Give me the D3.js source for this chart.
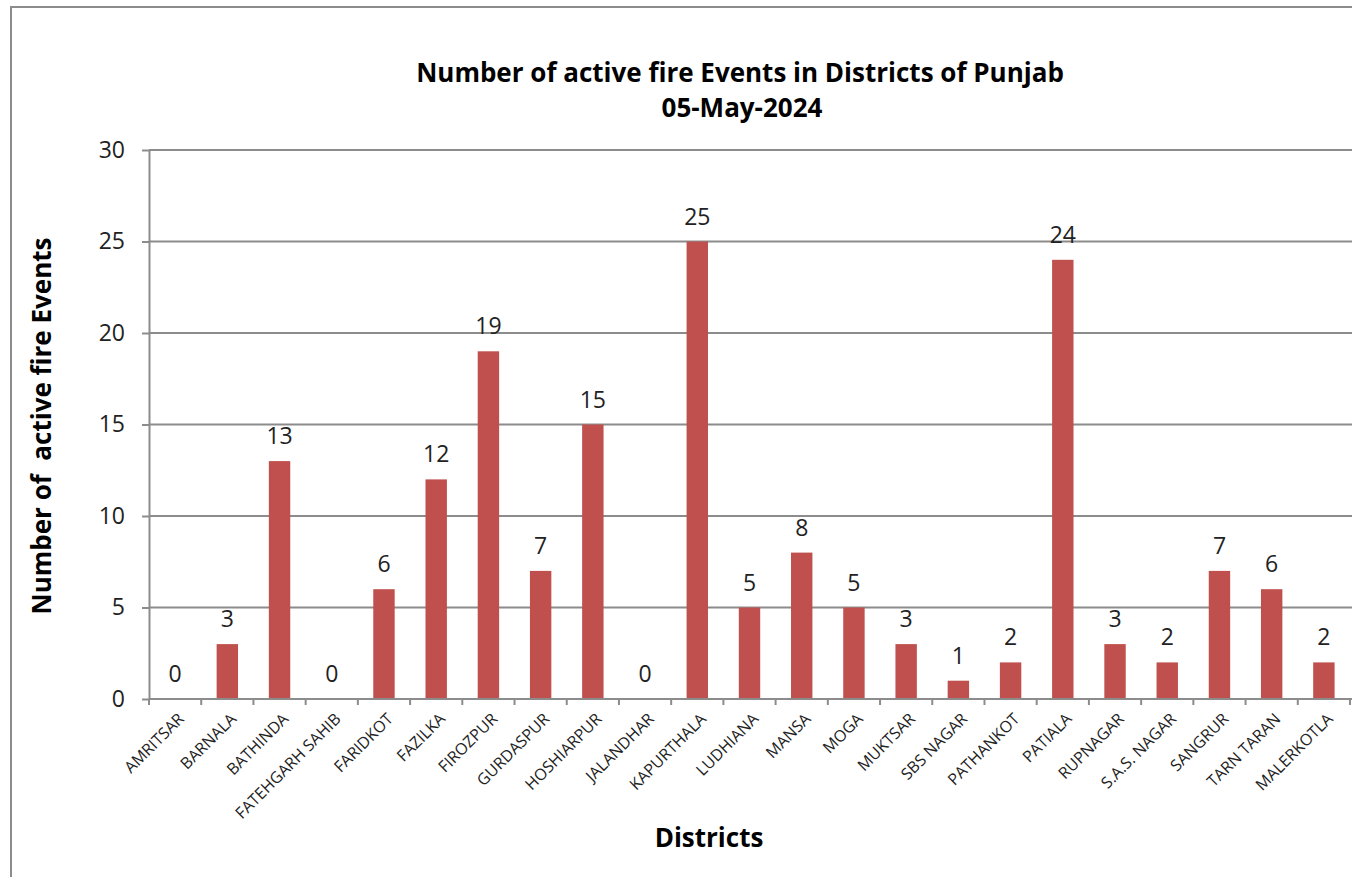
<!DOCTYPE html>
<html>
<head>
<meta charset="utf-8">
<script src="https://cdn.jsdelivr.net/npm/d3@7"></script>
<style>
  body { margin: 0; background: #fff; }
  svg { display: block; font-family: "Open Sans", "DejaVu Sans", sans-serif; }
  .grid line { stroke: #8c8c8c; stroke-width: 2; }
  .axis path, .axis line { stroke: #8c8c8c; stroke-width: 2; }
  .axis text { fill: #222; }
</style>
</head>
<body>
<div id="chart"></div>
<script>
const districts = ["AMRITSAR", "BARNALA", "BATHINDA", "FATEHGARH SAHIB", "FARIDKOT", "FAZILKA",
  "FIROZPUR", "GURDASPUR", "HOSHIARPUR", "JALANDHAR", "KAPURTHALA", "LUDHIANA", "MANSA", "MOGA",
  "MUKTSAR", "SBS NAGAR", "PATHANKOT", "PATIALA", "RUPNAGAR", "S.A.S. NAGAR", "SANGRUR",
  "TARN TARAN", "MALERKOTLA"];
const fireEvents = [0, 3, 13, 0, 6, 12, 19, 7, 15, 0, 25, 5, 8, 5, 3, 1, 2, 24, 3, 2, 7, 6, 2];
const yTicks = [0, 5, 10, 15, 20, 25, 30];

const W = 1352, H = 877;
const margin = {left: 149, top: 150, right: 2, bottom: 178};

const svg = d3.select("#chart").append("svg")
    .attr("width", W)
    .attr("height", H);

// chart area border (right and bottom edges fall outside the picture)
svg.append("rect")
    .attr("x", 11).attr("y", 7)
    .attr("width", W + 20).attr("height", H + 20)
    .attr("fill", "none")
    .attr("stroke", "#8c8c8c")
    .attr("stroke-width", 2);

let x = d3.scaleBand()
    .domain(districts)
    .range([margin.left, W - margin.right])
    .paddingInner(0.59)
    .paddingOuter(0.295);

let xTicks = d3.scaleBand()
    .domain(districts)
    .range([margin.left, W - margin.right]);

let y = d3.scaleLinear()
    .domain([0, 30])
    .range([H - margin.bottom, margin.top]);

// gridlines
svg.append("g")
    .attr("class", "grid")
    .selectAll("line")
    .data(yTicks.slice(1))
  .enter().append("line")
    .attr("x1", margin.left)
    .attr("x2", W)
    .attr("y1", d => y(d))
    .attr("y2", d => y(d));

// y axis
let yAxis = svg.append("g")
    .attr("class", "axis")
    .attr("transform", "translate(" + margin.left + ",0)")
    .call(d3.axisLeft(y).tickValues(yTicks).tickSize(7).tickSizeOuter(0).tickPadding(17));
yAxis.selectAll("text").style("font-size", "23px").style("font-family", "Open Sans");

// bars
svg.append("g")
    .selectAll("rect")
    .data(fireEvents)
  .enter().append("rect")
    .attr("x", (d, i) => x(districts[i]))
    .attr("y", d => y(d))
    .attr("width", x.bandwidth())
    .attr("height", d => y(0) - y(d))
    .attr("fill", "#c0504d");

// data labels
svg.append("g")
    .selectAll("text")
    .data(fireEvents)
  .enter().append("text")
    .attr("x", (d, i) => x(districts[i]) + x.bandwidth() / 2)
    .attr("y", d => y(d) - 17)
    .attr("text-anchor", "middle")
    .style("font-size", "23px")
    .style("fill", "#222")
    .text(d => d);

// x axis
let xAxisG = svg.append("g")
    .attr("class", "axis")
    .attr("transform", "translate(0," + y(0) + ")");

xAxisG.append("line")
    .attr("x1", margin.left).attr("x2", W)
    .attr("y1", 0).attr("y2", 0);

xAxisG.selectAll(".tick")
    .data(districts.concat(["end"]))
  .enter().append("line")
    .attr("x1", (d, i) => margin.left + i * xTicks.step())
    .attr("x2", (d, i) => margin.left + i * xTicks.step())
    .attr("y1", 0).attr("y2", 6);

xAxisG.selectAll(".lbl")
    .data(districts)
  .enter().append("text")
    .attr("class", "lbl")
    .attr("transform", d => "translate(" + (xTicks(d) + xTicks.bandwidth() / 2 + 6) + ",17) rotate(-45)")
    .attr("text-anchor", "end")
    .attr("dy", "0.35em")
    .style("font-size", "16px")
    .style("fill", "#222")
    .text(d => d);

// titles
svg.append("text")
    .attr("x", 740).attr("y", 82)
    .attr("text-anchor", "middle")
    .style("font-size", "26px").style("font-weight", "bold")
    .text("Number of active fire Events in Districts of Punjab");

svg.append("text")
    .attr("x", 742).attr("y", 117)
    .attr("text-anchor", "middle")
    .style("font-size", "26px").style("font-weight", "bold")
    .text("05-May-2024");

svg.append("text")
    .attr("transform", "translate(51,426) rotate(-90)")
    .attr("text-anchor", "middle")
    .style("font-size", "26px").style("font-weight", "bold")
    .style("white-space", "pre")
    .text("Number of  active fire Events");

svg.append("text")
    .attr("x", 709).attr("y", 847)
    .attr("text-anchor", "middle")
    .style("font-size", "26px").style("font-weight", "bold")
    .text("Districts");
</script>
</body>
</html>
